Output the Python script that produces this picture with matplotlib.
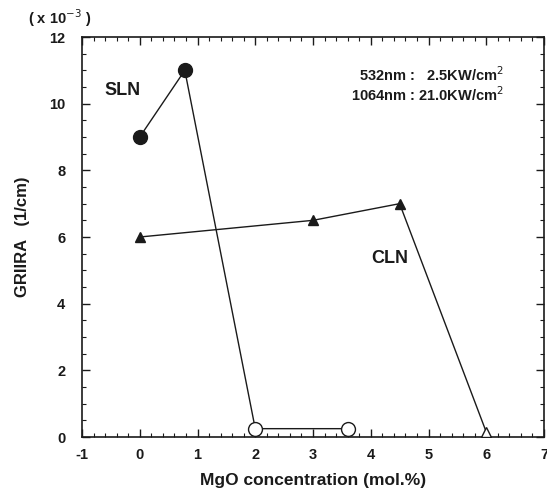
import matplotlib.pyplot as plt
from matplotlib.ticker import MultipleLocator

plt.rcParams['font.family'] = ['Liberation Sans', 'DejaVu Sans']
plt.rcParams['axes.unicode_minus'] = False

# SLN series (filled circles, then open circles)
sln_x = [0, 0.78, 2.0, 3.6]
sln_y = [9.0, 11.0, 0.25, 0.25]
sln_filled = [True, True, False, False]

# CLN series (filled triangles, last one open)
cln_x = [0, 3.0, 4.5, 6.0]
cln_y = [6.0, 6.5, 7.0, 0.15]
cln_filled = [True, True, True, False]

ink = '#1a1a1a'

fig = plt.figure(figsize=(5.47, 4.98), dpi=100)
ax = fig.add_axes([82 / 547, 61 / 498, 462 / 547, 400 / 498])

ax.plot(sln_x, sln_y, color=ink, lw=1.0, zorder=2)
for x, y, f in zip(sln_x, sln_y, sln_filled):
    ax.plot(x, y, 'o', ms=10, mec=ink, mew=1.0,
            mfc=ink if f else 'white', zorder=3)

ax.plot(cln_x, cln_y, color=ink, lw=1.0, zorder=2)
for x, y, f in zip(cln_x, cln_y, cln_filled):
    ax.plot(x, y, '^', ms=6.5, mec=ink, mew=1.0,
            mfc=ink if f else 'white', zorder=3)

ax.set_xlim(-1, 7)
ax.set_ylim(0, 12)
ax.xaxis.set_major_locator(MultipleLocator(1))
ax.xaxis.set_minor_locator(MultipleLocator(0.2))
ax.yaxis.set_major_locator(MultipleLocator(2))
ax.yaxis.set_minor_locator(MultipleLocator(0.5))
ax.tick_params(which='both', direction='in', top=True, right=True,
               colors=ink, labelsize=10.5)
ax.tick_params(which='major', length=6, width=1)
ax.tick_params(which='minor', length=3, width=0.8)
ax.tick_params(axis='y', which='major', pad=12)
ax.tick_params(axis='x', which='major', pad=8)
for lab in ax.get_xticklabels() + ax.get_yticklabels():
    lab.set_fontweight('bold')
for s in ax.spines.values():
    s.set_color(ink)
    s.set_linewidth(1.2)

ax.set_xlabel('MgO concentration (mol.%)', fontsize=12.5, fontweight='bold',
              color=ink, labelpad=8)
ax.set_ylabel('GRIIRA   (1/cm)', fontsize=12, fontweight='bold',
              color=ink, labelpad=14)

ax.text(-0.3, 10.4, 'SLN', fontsize=13, fontweight='bold', color=ink,
        ha='center', va='center')
ax.text(4.33, 5.35, 'CLN', fontsize=13, fontweight='bold', color=ink,
        ha='center', va='center')
ax.text(6.3, 10.57, '532nm :   2.5KW/cm$^2$\n1064nm : 21.0KW/cm$^2$',
        fontsize=10.5, fontweight='bold', color=ink, ha='right',
        va='center', multialignment='right', linespacing=1.05)

fig.text(28 / 547, 1 - 18 / 498, '( x 10$^{-3}$ )', fontsize=10.5,
         fontweight='bold', color=ink, ha='left', va='center')

fig.savefig('out.png', dpi=100)
